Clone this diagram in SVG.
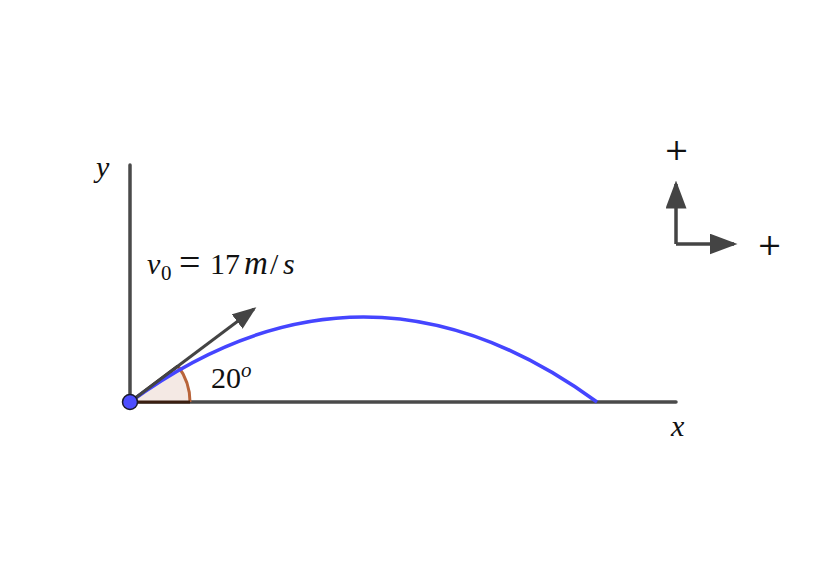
<svg xmlns="http://www.w3.org/2000/svg" width="840" height="561" viewBox="0 0 840 561">
<defs>
<style>
.ax{stroke:#4a4a4a;stroke-width:3.5;fill:none;stroke-linecap:round}
.t{font-family:"Liberation Serif","DejaVu Serif",serif;fill:#111}
.p{font-family:"DejaVu Serif",serif;fill:#111;font-weight:300}
.i{font-style:italic}
</style>
<marker id="ah" markerWidth="8" markerHeight="6" refX="7" refY="3" orient="auto" markerUnits="strokeWidth">
<path d="M0,0 L8,3 L0,6 Z" fill="#444"/>
</marker>
</defs>
<rect width="840" height="561" fill="#fff"/>
<g id="axes">
<line class="ax" x1="130" y1="165" x2="130" y2="402"/>
<line class="ax" x1="130" y1="402" x2="676" y2="402"/>
</g>
<g id="angle">
<path d="M130,402 L190,402 A60,60 0 0 0 178,366 Z" fill="#f4e9e4" stroke="none"/>
<path d="M190,402 A60,60 0 0 0 178,366" fill="none" stroke="#b8643a" stroke-width="3"/>
<path d="M130,402 L190,402 M130,402 L178,366" stroke="#3a1e10" stroke-width="3"/>
</g>
<g id="connectors">
<path d="M130,402 Q363.5,232 597,402" fill="none" stroke="#4545ff" stroke-width="3.5"/>
<line x1="130" y1="402" x2="254" y2="309" stroke="#444" stroke-width="3" marker-end="url(#ah)"/>
<line x1="676" y1="244" x2="676" y2="184" stroke="#444" stroke-width="3.5" marker-end="url(#ah)"/>
<line x1="676" y1="244" x2="734" y2="244" stroke="#444" stroke-width="3.5" marker-end="url(#ah)"/>
</g>
<g id="point">
<circle cx="130" cy="402" r="7.5" fill="#4d4dff" stroke="#1a1a2a" stroke-width="1.5"/>
</g>
<g id="labels">
<text class="t i" x="96" y="177" font-size="30">y</text>
<text class="t i" x="671" y="436" font-size="30">x</text>
<text class="t" y="274" font-size="30"><tspan class="i" x="147">v</tspan><tspan font-size="21" x="161" y="280">0</tspan><tspan x="179" y="275" font-size="38">=</tspan><tspan x="210" y="274">17</tspan><tspan class="i" x="244" font-size="33">m</tspan><tspan x="270">/</tspan><tspan class="i" x="283">s</tspan></text>
<text class="t" x="211" y="388" font-size="30">20<tspan class="i" font-size="21" dy="-11">o</tspan></text>
<text class="p" x="664" y="160" font-size="30">+</text>
<text class="p" x="757" y="255" font-size="30">+</text>
</g>
</svg>
